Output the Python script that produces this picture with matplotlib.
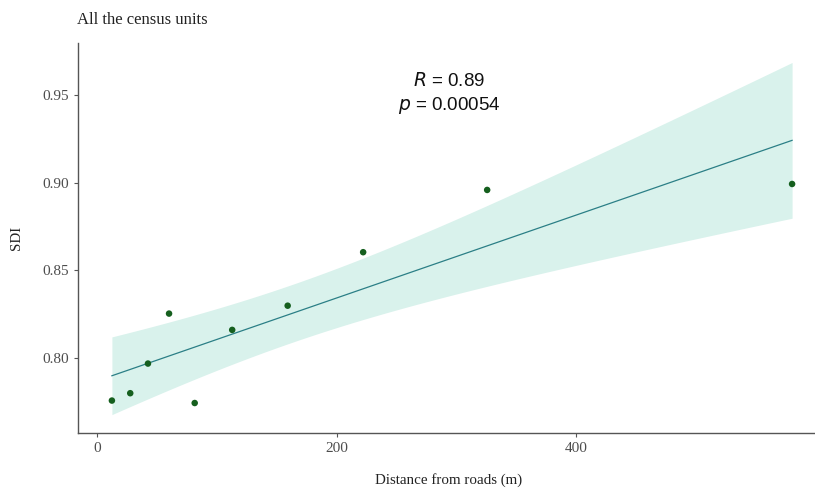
import matplotlib.pyplot as plt
import numpy as np

# data
distance = np.array([12.3, 27.6, 42.4, 60.0, 81.4, 112.7, 159.0, 222.0, 325.5, 580.0])
sdi = np.array([0.7757, 0.7799, 0.7968, 0.8253, 0.7743, 0.8160, 0.8298, 0.8603, 0.8958, 0.8992])
r_label = "0.89"
p_label = "0.00054"

# linear fit with 95% confidence band (like geom_smooth(method="lm"))
n = len(distance)
slope, intercept = np.polyfit(distance, sdi, 1)
xs = np.linspace(distance.min(), distance.max(), 200)
fit = intercept + slope * xs
resid = sdi - (intercept + slope * distance)
s = np.sqrt(np.sum(resid ** 2) / (n - 2))
sxx = np.sum((distance - distance.mean()) ** 2)
se = s * np.sqrt(1 / n + (xs - distance.mean()) ** 2 / sxx)
t_crit = 2.306  # t(0.975, df=8)
lower = fit - t_crit * se
upper = fit + t_crit * se

plt.rcParams['font.family'] = ['Liberation Serif', 'DejaVu Serif']

fig = plt.figure(figsize=(8.15, 4.9), dpi=100)
ax = fig.add_axes([0.0957, 0.1163, 0.91, 0.796])

ax.fill_between(xs, lower, upper, color='#d9f2ec', lw=0, zorder=1)
ax.plot(xs, fit, color='#2b7f86', lw=0.9, zorder=2)
ax.scatter(distance, sdi, s=22, color='#155f1e', zorder=3, edgecolors='none')

ax.set_xlim(-16, 603)
ax.set_ylim(0.7572, 0.9796)
ax.set_xticks([0, 200, 400])
ax.set_yticks([0.80, 0.85, 0.90, 0.95])
ax.set_yticklabels(['0.80', '0.85', '0.90', '0.95'])
ax.tick_params(colors='#555555', labelcolor='#4d4d4d', labelsize=11, length=3, width=0.8)

for side in ['top', 'right']:
    ax.spines[side].set_visible(False)
for side in ['left', 'bottom']:
    ax.spines[side].set_color('#555555')
    ax.spines[side].set_linewidth(1.0)

ax.set_xlabel('Distance from roads (m)', fontsize=10.8, color='#222222', labelpad=13)
ax.set_ylabel('SDI', fontsize=10.8, color='#222222', labelpad=14)
fig.text(0.095, 0.96, 'All the census units', fontsize=12, color='#222222', va='center')

ax.text(294, 0.9582, r'$\it{R}$ = ' + r_label, family=['Liberation Sans', 'DejaVu Sans'],
        fontsize=13.5, ha='center', va='center', color='#111111')
ax.text(294, 0.9439, r'$\it{p}$ = ' + p_label, family=['Liberation Sans', 'DejaVu Sans'],
        fontsize=13.5, ha='center', va='center', color='#111111')

fig.savefig('out.png', dpi=100)
